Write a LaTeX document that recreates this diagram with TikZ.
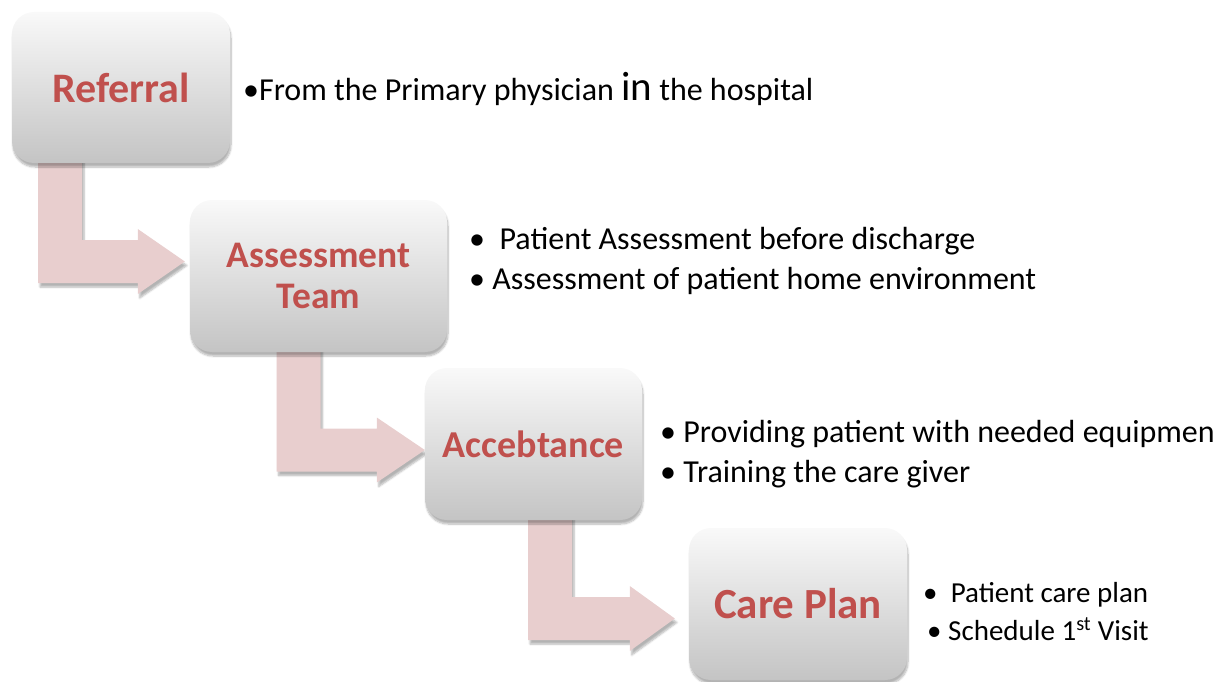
\documentclass[tikz,border=0pt]{standalone}
\usepackage{fontspec}
\setmainfont{Carlito}
\usetikzlibrary{calc,backgrounds,shadows.blur}

\definecolor{titlered}{RGB}{192,80,77}
\definecolor{flowpink}{RGB}{232,206,206}
\definecolor{boxtop}{RGB}{249,249,249}
\definecolor{boxbottom}{RGB}{196,196,196}

% bent block arrow: shaft top centre, tip, length of the head
\newcommand{\bentarrow}[3]{%
  \fill[flow] ($(#1)+(-22,0)$) -- ($(#1)+(22,0)$) -- ($(#1 |- #2)+(22,-21.5)$)
    -- ($(#2)+(-#3,-21.5)$) -- ($(#2)+(-#3,-32.5)$) -- (#2)
    -- ($(#2)+(-#3,32.5)$) -- ($(#2)+(-#3,21.5)$)
    -- ($(#1 |- #2)+(-22,21.5)$) -- cycle;
}

\begin{document}
\begin{tikzpicture}[x=1pt,y=-1pt,
    stage/.style={rounded corners=22pt, top color=boxtop, bottom color=boxbottom,
      minimum width=218pt, minimum height=152pt, inner sep=0pt, align=center,
      text=titlered, font=\bfseries\fontsize{42}{42}\selectfont,
      blur shadow={shadow xshift=1pt, shadow yshift=-4pt, shadow blur steps=8, shadow opacity=30}},
    flow/.style={fill=flowpink,
      blur shadow={shadow xshift=2pt, shadow yshift=-4pt, shadow blur steps=6, shadow opacity=30}},
    point/.style={anchor=base west, inner sep=0pt, font=\fontsize{32}{38}\selectfont}]
    \useasboundingbox (0,0) rectangle (1221,682);

    % Boxes
    \node[stage, minimum height=151pt] (referral) at (121,87.5) {Referral};
    \node[stage, minimum width=257pt, font=\bfseries\fontsize{37.5}{41}\selectfont] (team) at (318.5,276) {Assessment\\Team};
    \node[stage, minimum width=217pt, font=\bfseries\fontsize{38}{41}\selectfont] (accept) at (533.5,444) {Accebtance};
    \node[stage, font=\bfseries\fontsize{43}{44}\selectfont] (plan) at (798,604) {Care Plan};

    % Arrows, behind the boxes
    \coordinate (s1) at ($(referral.south)+(-61,-10)$);
    \coordinate (t1) at ($(team.west)+(-5,-14.5)$);
    \coordinate (s2) at ($(team.south)+(-20,-10)$);
    \coordinate (t2) at ($(accept.west)+(0,6)$);
    \coordinate (s3) at ($(accept.south)+(16.5,-10)$);
    \coordinate (t3) at ($(plan.west)+(-14,14.5)$);
    \begin{pgfonlayer}{background}
    \bentarrow{s1}{t1}{47}
    \bentarrow{s2}{t2}{48}
    \bentarrow{s3}{t3}{45}
    \end{pgfonlayer}

    % Points
    \node[point] (refa) at (243,101) {•From the Primary physician {\fontsize{41}{41}\selectfont in} the hospital};
    \node[point] (teama) at (469,249) {•~~Patient Assessment before discharge};
    \node[point] (teamb) at (469,289) {•~Assessment of patient home environment};
    \node[point] (accepta) at (660,442) {•~Providing patient with needed equipmen};
    \node[point] (acceptb) at (660,482) {•~Training the care giver};
    \node[point, font=\fontsize{29}{34}\selectfont] (plana) at (923,602) {•~~Patient care plan};
    \node[point, font=\fontsize{29}{34}\selectfont] (planb) at (927,640) {•~Schedule 1\textsuperscript{st} Visit};
\end{tikzpicture}
\end{document}
